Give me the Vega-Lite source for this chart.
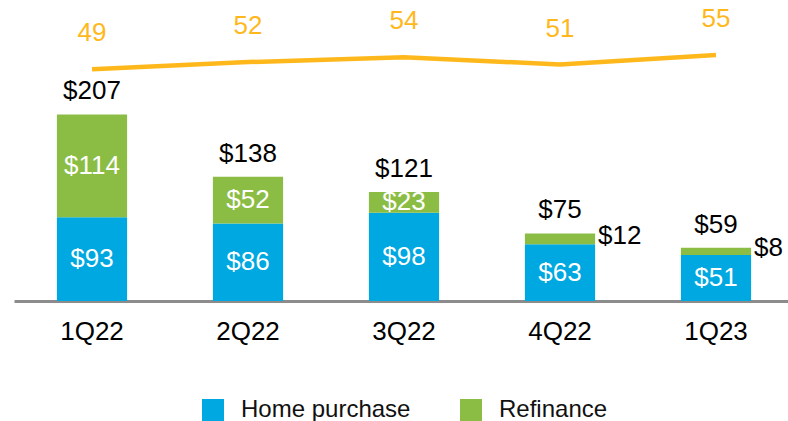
{
  "$schema": "https://vega.github.io/schema/vega-lite/v6.json",
  "autosize": {"type": "none"},
  "padding": {"left": 14, "top": 0, "right": 0, "bottom": 120},
  "width": 780,
  "height": 301,
  "config": {
    "view": {"stroke": null},
    "font": "Liberation Sans",
    "text": {"font": "Liberation Sans"},
    "legend": {"layout": {"bottom": {"anchor": "middle"}}}
  },
  "datasets": {
    "seg": [
      {"q": "1Q22", "type": "Home purchase", "value": 93},
      {"q": "1Q22", "type": "Refinance", "value": 114},
      {"q": "2Q22", "type": "Home purchase", "value": 86},
      {"q": "2Q22", "type": "Refinance", "value": 52},
      {"q": "3Q22", "type": "Home purchase", "value": 98},
      {"q": "3Q22", "type": "Refinance", "value": 23},
      {"q": "4Q22", "type": "Home purchase", "value": 63},
      {"q": "4Q22", "type": "Refinance", "value": 12},
      {"q": "1Q23", "type": "Home purchase", "value": 51},
      {"q": "1Q23", "type": "Refinance", "value": 8}
    ],
    "qtr": [
      {"q": "1Q22", "total": 207, "bps": 49},
      {"q": "2Q22", "total": 138, "bps": 52},
      {"q": "3Q22", "total": 121, "bps": 54},
      {"q": "4Q22", "total": 75, "bps": 51},
      {"q": "1Q23", "total": 59, "bps": 55}
    ]
  },
  "encoding": {
    "x": {
      "field": "q",
      "type": "nominal",
      "sort": ["1Q22", "2Q22", "3Q22", "4Q22", "1Q23"],
      "scale": {"paddingInner": 0.55, "paddingOuter": 0.275},
      "axis": {
        "title": null,
        "labelAngle": 0,
        "labelFontSize": 26,
        "labelColor": "#000000",
        "labelFont": "Liberation Sans",
        "labelPadding": 17,
        "ticks": false,
        "domainColor": "#8C8C8C",
        "domainWidth": 3
      }
    }
  },
  "layer": [
    {
      "data": {"name": "seg"},
      "transform": [
        {"stack": "value", "groupby": ["q"], "sort": [{"field": "type", "order": "ascending"}], "as": ["v0", "v1"]},
        {"calculate": "(datum.v0 + datum.v1) / 2", "as": "mid"},
        {"calculate": "'$' + datum.value", "as": "lbl"}
      ],
      "layer": [
        {
          "mark": {"type": "bar"},
          "encoding": {
            "y": {"field": "v0", "type": "quantitative", "scale": {"domain": [0, 334]}, "axis": null},
            "y2": {"field": "v1"},
            "color": {
              "field": "type",
              "type": "nominal",
              "scale": {"domain": ["Home purchase", "Refinance"], "range": ["#00A8E1", "#8BBD45"]},
              "legend": {
                "title": null,
                "orient": "bottom",
                "direction": "horizontal",
                "symbolType": "square",
                "symbolSize": 484,
                "symbolStrokeWidth": 0,
                "labelFontSize": 24,
                "labelFont": "Liberation Sans",
                "labelColor": "#111111",
                "labelLimit": 400,
                "labelOffset": 16,
                "columnPadding": 48,
                "offset": 54
              }
            }
          }
        },
        {
          "transform": [{"filter": "datum.value >= 15"}],
          "mark": {"type": "text", "fontSize": 26, "color": "#FFFFFF", "baseline": "middle", "align": "center"},
          "encoding": {
            "y": {"field": "mid", "type": "quantitative", "scale": {"domain": [0, 334]}, "axis": null},
            "text": {"field": "lbl"}
          }
        },
        {
          "transform": [{"filter": "datum.value < 15"}],
          "mark": {"type": "text", "fontSize": 26, "color": "#000000", "baseline": "middle", "align": "left", "dx": 38, "dy": -3},
          "encoding": {
            "y": {"field": "mid", "type": "quantitative", "scale": {"domain": [0, 334]}, "axis": null},
            "text": {"field": "lbl"}
          }
        }
      ]
    },
    {
      "data": {"name": "qtr"},
      "transform": [{"calculate": "'$' + datum.total", "as": "tl"}],
      "mark": {"type": "text", "fontSize": 26, "color": "#000000", "baseline": "alphabetic", "align": "center", "dy": -15},
      "encoding": {
        "y": {"field": "total", "type": "quantitative", "scale": {"domain": [0, 334]}, "axis": null},
        "text": {"field": "tl"}
      }
    },
    {
      "data": {"name": "qtr"},
      "layer": [
        {
          "mark": {"type": "line", "color": "#FFB81C", "strokeWidth": 4.5},
          "encoding": {
            "y": {"field": "bps", "type": "quantitative", "scale": {"domain": [-48, 78]}, "axis": null}
          }
        },
        {
          "mark": {"type": "text", "fontSize": 26, "color": "#FFB81C", "baseline": "middle", "align": "center", "dy": -36},
          "encoding": {
            "y": {"field": "bps", "type": "quantitative", "scale": {"domain": [-48, 78]}, "axis": null},
            "text": {"field": "bps"}
          }
        }
      ]
    }
  ],
  "resolve": {"scale": {"y": "independent"}}
}
